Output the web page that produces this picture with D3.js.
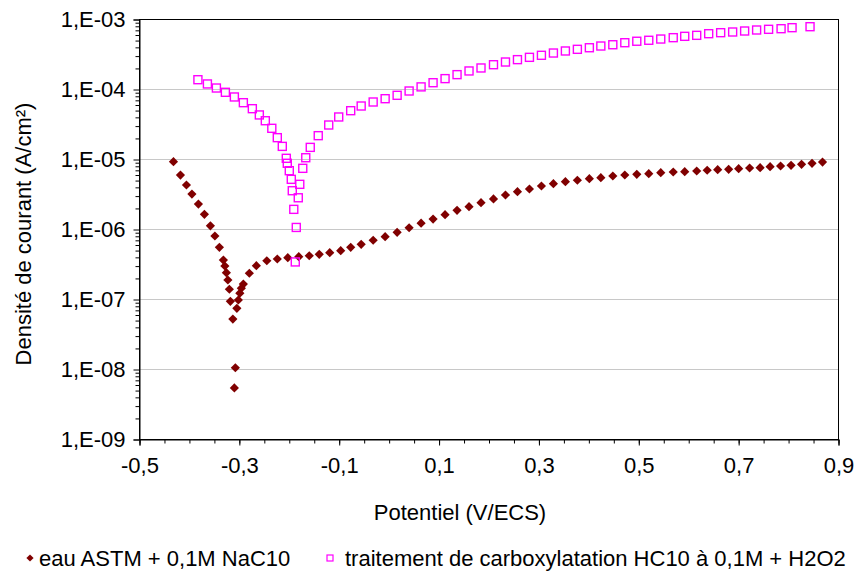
<!DOCTYPE html>
<html><head><meta charset="utf-8">
<script src="https://cdn.jsdelivr.net/npm/d3@7"></script>
<style>
html,body{margin:0;padding:0;background:#fff;}
text{font-family:"Liberation Sans",Arial,sans-serif;fill:#000;}
</style></head>
<body><svg id="c" width="857" height="572"></svg>
<script>
// Series 1: eau ASTM + 0,1M NaC10
const astmX = [-0.432,-0.418,-0.406,-0.395,-0.382,-0.370,-0.358,-0.349,-0.340,-0.332,-0.329,-0.326,-0.323,-0.320,-0.318,-0.313,-0.310,-0.308,-0.305,-0.302,-0.299,-0.296,-0.292,-0.280,-0.266,-0.245,-0.224,-0.203,-0.181,-0.160,-0.140,-0.119,-0.097,-0.077,-0.056,-0.032,-0.008,0.016,0.040,0.064,0.088,0.112,0.136,0.160,0.184,0.209,0.233,0.257,0.281,0.305,0.329,0.353,0.377,0.401,0.424,0.448,0.472,0.496,0.520,0.544,0.569,0.592,0.616,0.637,0.658,0.680,0.700,0.722,0.743,0.763,0.784,0.805,0.826,0.847,0.868];
const astmY = [9.3e-6,6.0e-6,4.32e-6,3.21e-6,2.31e-6,1.65e-6,1.13e-6,8.07e-7,5.57e-7,3.66e-7,3.01e-7,2.42e-7,1.90e-7,1.40e-7,9.43e-8,5.26e-8,5.45e-9,1.06e-8,7.48e-8,9.84e-8,1.23e-7,1.45e-7,1.66e-7,2.37e-7,3.04e-7,3.58e-7,3.79e-7,3.96e-7,4.09e-7,4.22e-7,4.42e-7,4.67e-7,4.98e-7,5.57e-7,6.15e-7,7.02e-7,7.89e-7,9.12e-7,1.06e-6,1.23e-6,1.41e-6,1.63e-6,1.88e-6,2.12e-6,2.42e-6,2.73e-6,3.11e-6,3.47e-6,3.79e-6,4.18e-6,4.51e-6,4.82e-6,5.05e-6,5.32e-6,5.50e-6,5.81e-6,6.01e-6,6.15e-6,6.27e-6,6.48e-6,6.63e-6,6.70e-6,6.85e-6,7.02e-6,7.15e-6,7.24e-6,7.39e-6,7.56e-6,7.64e-6,7.89e-6,8.07e-6,8.26e-6,8.53e-6,8.83e-6,9.20e-6];
// Series 2: traitement de carboxylatation HC10 à 0,1M + H2O2
const carbX = [-0.383,-0.364,-0.346,-0.328,-0.310,-0.292,-0.274,-0.260,-0.248,-0.235,-0.224,-0.214,-0.206,-0.204,-0.200,-0.196,-0.194,-0.191,-0.186,-0.188,-0.182,-0.179,-0.173,-0.167,-0.158,-0.142,-0.121,-0.101,-0.077,-0.056,-0.032,-0.008,0.016,0.040,0.064,0.088,0.112,0.136,0.160,0.184,0.209,0.233,0.257,0.281,0.305,0.329,0.353,0.377,0.401,0.424,0.448,0.472,0.496,0.520,0.544,0.569,0.592,0.616,0.640,0.664,0.688,0.712,0.736,0.760,0.785,0.807,0.843];
const carbY = [1.38e-4,1.20e-4,1.05e-4,9.12e-5,7.82e-5,6.48e-5,5.32e-5,4.33e-5,3.58e-5,2.79e-5,2.05e-5,1.54e-5,1.04e-5,8.83e-6,6.92e-6,5.21e-6,3.58e-6,1.94e-6,1.07e-6,3.44e-7,2.84e-6,4.42e-6,7.48e-6,1.06e-5,1.49e-5,2.19e-5,3.11e-5,4.05e-5,4.98e-5,5.81e-5,6.63e-5,7.39e-5,8.26e-5,9.52e-5,1.09e-4,1.25e-4,1.43e-4,1.63e-4,1.84e-4,2.03e-4,2.26e-4,2.47e-4,2.67e-4,2.88e-4,3.08e-4,3.32e-4,3.55e-4,3.75e-4,3.95e-4,4.18e-4,4.36e-4,4.66e-4,4.89e-4,5.05e-4,5.26e-4,5.50e-4,5.75e-4,5.94e-4,6.27e-4,6.48e-4,6.63e-4,6.85e-4,7.08e-4,7.24e-4,7.39e-4,7.64e-4,7.89e-4];
const xTicks = [-0.5,-0.3,-0.1,0.1,0.3,0.5,0.7,0.9];
const yTicks = [1e-9,1e-8,1e-7,1e-6,1e-5,1e-4,1e-3];
const seriesNames = ["eau ASTM + 0,1M NaC10","traitement de carboxylatation HC10 à 0,1M + H2O2"];
const xTitle = "Potentiel (V/ECS)";
const yTitle = "Densité de courant (A/cm²)";

const svg = d3.select("#c");
const L = 139.5, R = 838.5, T = 19.5, B = 439.5;
const x = d3.scaleLinear().domain([-0.5,0.9]).range([L,R]);
const y = d3.scaleLog().domain([1e-9,1e-3]).range([B,T]);
const FS = 22;
const FF = "'Liberation Sans',Arial,sans-serif";

// gridlines
svg.append("g").selectAll("line").data(yTicks).join("line")
  .attr("x1",L).attr("x2",R).attr("y1",d=>y(d)).attr("y2",d=>y(d))
  .attr("stroke","#c8c8c8").attr("stroke-width",1);

// border
svg.append("rect").attr("x",L).attr("y",T).attr("width",R-L).attr("height",B-T)
  .attr("fill","none").attr("stroke","#000").attr("stroke-width",1);

const fmtY = d => "1,E-" + String(-Math.round(Math.log10(d))).padStart(2,"0");
const fmtX = d => d3.format(".1f")(d).replace(".",",").replace("−","-");

// y minor ticks
const yMinor = [];
for (let e=-9;e<-3;e++) for (let m=2;m<=9;m++) yMinor.push(m*Math.pow(10,e));
svg.append("g").attr("transform",`translate(${L},0)`)
  .call(d3.axisLeft(y).tickValues(yMinor).tickSize(4).tickFormat(""))
  .call(g=>g.select(".domain").remove());
// y major
const gy = svg.append("g").attr("transform",`translate(${L},0)`)
  .call(d3.axisLeft(y).tickValues(yTicks).tickSize(6).tickPadding(8).tickFormat(fmtY));
gy.select(".domain").attr("stroke","#000");
gy.selectAll("text").attr("font-size",FS).attr("font-family",FF).attr("fill","#000");

// x minor
const xMinor = d3.range(-0.5,0.9001,0.05).map(v=>+v.toFixed(2));
svg.append("g").attr("transform",`translate(0,${B})`)
  .call(d3.axisBottom(x).tickValues(xMinor).tickSize(4).tickFormat(""))
  .call(g=>g.select(".domain").remove());
const gx = svg.append("g").attr("transform",`translate(0,${B})`)
  .call(d3.axisBottom(x).tickValues(xTicks).tickSize(6).tickPadding(12).tickFormat(fmtX));
gx.selectAll("text").attr("font-size",FS).attr("font-family",FF).attr("fill","#000");

// titles
svg.append("text").attr("x",460).attr("y",520).attr("text-anchor","middle").attr("font-size",FS).text(xTitle);
svg.append("text").attr("transform","translate(31,234) rotate(-90)").attr("text-anchor","middle").attr("font-size",FS).text(yTitle);

// markers
const diamond = (s)=>`M0,${-s}L${s},0L0,${s}L${-s},0Z`;
svg.append("g").selectAll("path").data(astmX.map((v,i)=>[v,astmY[i]])).join("path")
  .attr("transform",d=>`translate(${x(d[0])},${y(d[1])})`)
  .attr("d",diamond(4.6)).attr("fill","#800000");
svg.append("g").selectAll("rect").data(carbX.map((v,i)=>[v,carbY[i]])).join("rect")
  .attr("x",d=>x(d[0])-4).attr("y",d=>y(d[1])-4).attr("width",8).attr("height",8)
  .attr("fill","none").attr("stroke","#ff00ff").attr("stroke-width",1.4);

// legend
const lg = svg.append("g");
lg.append("path").attr("transform","translate(30,558)").attr("d",diamond(3.6)).attr("fill","#800000");
lg.append("text").attr("x",39).attr("y",566).attr("font-size",FS).text(seriesNames[0]);
lg.append("rect").attr("x",327).attr("y",555).attr("width",6).attr("height",6).attr("fill","none").attr("stroke","#ff00ff").attr("stroke-width",1.2);
lg.append("text").attr("x",345).attr("y",566).attr("font-size",FS).text(seriesNames[1]);
</script></body></html>
